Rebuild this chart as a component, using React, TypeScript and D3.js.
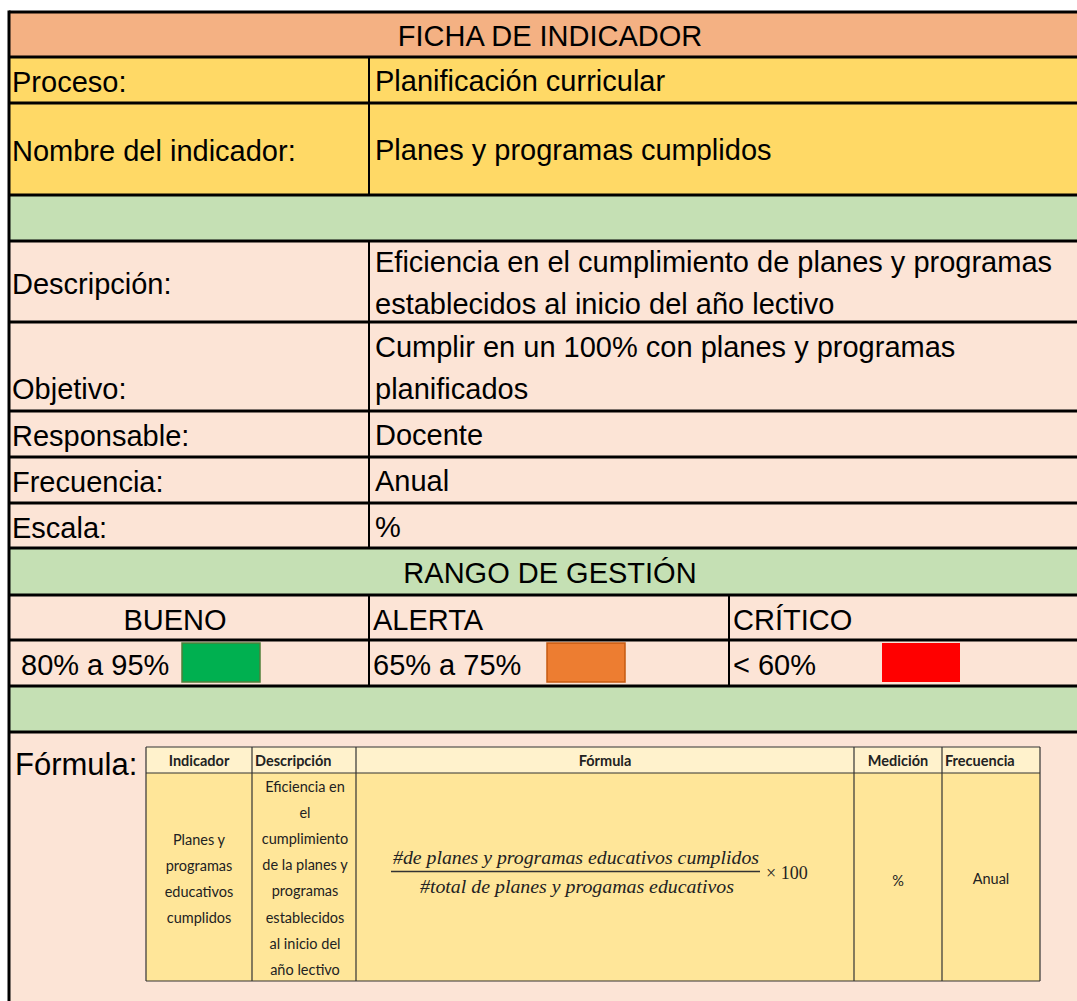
import React, { useEffect, useRef } from 'react';
import * as d3 from 'd3';

// ---- content of the sheet ----
const title = 'FICHA DE INDICADOR';
const infoLabels = ['Proceso:', 'Nombre del indicador:', '', 'Descripción:', 'Objetivo:', 'Responsable:', 'Frecuencia:', 'Escala:'];
const infoValues = [
  ['Planificación curricular'],
  ['Planes y programas cumplidos'],
  [],
  ['Eficiencia en el cumplimiento de planes y programas', 'establecidos al inicio del año lectivo'],
  ['Cumplir en un 100% con planes y programas', 'planificados'],
  ['Docente'],
  ['Anual'],
  ['%'],
];
const rangeTitle = 'RANGO DE GESTIÓN';
const rangeLabels = ['BUENO', 'ALERTA', 'CRÍTICO'];
const rangeValues = ['80% a 95%', '65% a 75%', '< 60%'];
const rangeColors = ['#00b050', '#ed7d31', '#ff0000'];
const formulaLabel = 'Fórmula:';
const formulaHeaders = ['Indicador', 'Descripción', 'Fórmula', 'Medición', 'Frecuencia'];
const indicatorLines = ['Planes y', 'programas', 'educativos', 'cumplidos'];
const descriptionLines = ['Eficiencia en', 'el', 'cumplimiento', 'de la planes y', 'programas', 'establecidos', 'al inicio del', 'año lectivo'];
const numerator = '#de planes y programas educativos cumplidos';
const denominator = '#total de planes y progamas educativos';
const factor = '× 100';
const medicion = '%';
const frecuencia = 'Anual';

// ---- layout ----
const W = 1077;
const H = 1001;
const left = 9;
const right = 1100;
const split = 369;
const rowEdges = [12, 57, 103, 195, 241, 322, 411, 457, 503, 548, 595, 640, 686, 732, 1010];
const rangeCols = [left, 369, 729, right];
const swatchX = [182, 547, 882];
const innerX = [146, 252, 356, 854, 942, 1040];
const innerY = [747, 773, 981];

const SALMON = '#f4b183';
const YELLOW = '#ffd966';
const GREEN = '#c5e0b4';
const PEACH = '#fce4d6';
const HEAD = '#fff2cc';
const BODY = '#ffe699';

const FONT = '"Liberation Sans", Arial, sans-serif';
const CAL = 'Lato, "Open Sans", sans-serif';
const SIZE = 29;

export default function App() {
  const ref = useRef<SVGSVGElement>(null);

  useEffect(() => {
    const svg = d3.select(ref.current);
    svg.selectAll('*').remove();
    svg.attr('width', W).attr('height', H);

    const fills = [SALMON, YELLOW, YELLOW, GREEN, PEACH, PEACH, PEACH, PEACH, PEACH, GREEN, PEACH, PEACH, GREEN, PEACH];

    const g = svg.append('g');

    // row backgrounds
    g.selectAll('rect.row')
      .data(fills)
      .enter()
      .append('rect')
      .attr('class', 'row')
      .attr('x', left)
      .attr('y', (d, i) => rowEdges[i])
      .attr('width', right - left)
      .attr('height', (d, i) => rowEdges[i + 1] - rowEdges[i])
      .attr('fill', (d) => d);

    const text = (x, y, s, size = SIZE, anchor = 'start') =>
      g.append('text')
        .attr('x', x)
        .attr('y', y)
        .attr('font-family', FONT)
        .attr('font-size', size)
        .attr('text-anchor', anchor)
        .attr('fill', '#000')
        .text(s);

    const mid = (i) => (rowEdges[i] + rowEdges[i + 1]) / 2;

    // title
    text(550, mid(0) + 11, title, SIZE, 'middle');

    // info rows (rows 1..8)
    infoLabels.forEach((lab, k) => {
      const i = k + 1;
      const lines = infoValues[k];
      const m = mid(i);
      const lh = 42;
      const y0 = m - ((lines.length - 1) * lh) / 2 + 11;
      lines.forEach((ln, j) => text(375, y0 + j * lh, ln));
      if (lab) {
        const ly = lab === 'Objetivo:' ? y0 + (lines.length - 1) * lh : m + 12;
        text(12, ly, lab);
      }
    });

    // range of management
    text(550, mid(9) + 11, rangeTitle, SIZE, 'middle');
    rangeLabels.forEach((lab, k) => {
      if (k === 0) text(175, mid(10) + 12, lab, SIZE, 'middle');
      else text(rangeCols[k] + 4, mid(10) + 12, lab);
    });
    rangeValues.forEach((v, k) => {
      text(k === 0 ? 21 : rangeCols[k] + 4, mid(11) + 12, v);
    });
    g.selectAll('rect.swatch')
      .data(rangeColors)
      .enter()
      .append('rect')
      .attr('class', 'swatch')
      .attr('x', (d, i) => swatchX[i])
      .attr('y', 643)
      .attr('width', 78)
      .attr('height', 39)
      .attr('fill', (d) => d)
      .attr('stroke', (d, i) => (i === 0 ? '#4f7f3a' : i === 1 ? '#c55a11' : 'none'))
      .attr('stroke-width', 1.5);

    // formula section
    text(15, 775, formulaLabel, 31);

    // inner table
    const it = g.append('g');
    it.append('rect')
      .attr('x', innerX[0]).attr('y', innerY[0])
      .attr('width', innerX[5] - innerX[0]).attr('height', innerY[1] - innerY[0])
      .attr('fill', HEAD);
    it.append('rect')
      .attr('x', innerX[0]).attr('y', innerY[1])
      .attr('width', innerX[5] - innerX[0]).attr('height', innerY[2] - innerY[1])
      .attr('fill', BODY);

    const small = (x, y, s, anchor = 'middle', bold = false) =>
      it.append('text')
        .attr('x', x)
        .attr('y', y)
        .attr('font-family', CAL)
        .attr('font-size', 14.5)
        .attr('font-weight', bold ? 700 : 400)
        .attr('text-anchor', anchor)
        .attr('fill', '#222')
        .text(s);

    const cx = (i) => (innerX[i] + innerX[i + 1]) / 2;
    formulaHeaders.forEach((h, i) => {
      const leftAligned = h === 'Descripción' || h === 'Frecuencia';
      small(leftAligned ? innerX[i] + 3 : cx(i), 766, h, leftAligned ? 'start' : 'middle', true);
    });

    const lineH = 26;
    indicatorLines.forEach((ln, j) => small(cx(0), 845 + j * lineH, ln));
    descriptionLines.forEach((ln, j) => small(cx(1) + 1, 792 + j * 26.1, ln));

    const serif = (x, y, s, len) =>
      it.append('text')
        .attr('x', x)
        .attr('y', y)
        .attr('font-family', '"Liberation Serif", serif')
        .attr('font-style', 'italic')
        .attr('font-size', 19)
        .attr('text-anchor', 'middle')
        .attr('textLength', len)
        .attr('lengthAdjust', 'spacingAndGlyphs')
        .attr('fill', '#222')
        .text(s);

    serif(576, 864, numerator, 366);
    serif(577, 893, denominator, 314);
    it.append('line')
      .attr('x1', 391).attr('x2', 760)
      .attr('y1', 871.5).attr('y2', 871.5)
      .attr('stroke', '#333').attr('stroke-width', 1.3);
    it.append('text')
      .attr('x', 766).attr('y', 879)
      .attr('font-family', '"Liberation Serif", serif')
      .attr('font-size', 18)
      .attr('fill', '#222')
      .text(factor);
    small(cx(3), 886, medicion);
    small(cx(4), 884, frecuencia);

    // inner grid
    const ig = it.append('g').attr('stroke', '#333').attr('stroke-width', 1.2);
    innerY.forEach((y) => ig.append('line').attr('x1', innerX[0]).attr('x2', innerX[5]).attr('y1', y).attr('y2', y));
    innerX.forEach((x) => ig.append('line').attr('x1', x).attr('x2', x).attr('y1', innerY[0]).attr('y2', innerY[2]));

    // outer grid lines
    const grid = g.append('g').attr('stroke', '#000');
    rowEdges.slice(0, -1).forEach((y) =>
      grid.append('line')
        .attr('x1', left).attr('x2', right)
        .attr('y1', y).attr('y2', y)
        .attr('stroke-width', 3)
    );
    grid.append('line')
      .attr('x1', left).attr('x2', left)
      .attr('y1', rowEdges[0] - 1.5).attr('y2', H)
      .attr('stroke-width', 3);
    // label / value divider: skips the empty green band
    [[1, 3], [4, 9]].forEach(([a, b]) =>
      grid.append('line')
        .attr('x1', split).attr('x2', split)
        .attr('y1', rowEdges[a]).attr('y2', rowEdges[b])
        .attr('stroke-width', 2)
    );
    [1, 2].forEach((k) =>
      grid.append('line')
        .attr('x1', rangeCols[k]).attr('x2', rangeCols[k])
        .attr('y1', rowEdges[10]).attr('y2', rowEdges[12])
        .attr('stroke-width', 2)
    );
  }, []);

  return (
    <div style={{ position: 'absolute', left: 0, top: 0, background: '#fff' }}>
      <svg ref={ref}></svg>
    </div>
  );
}
